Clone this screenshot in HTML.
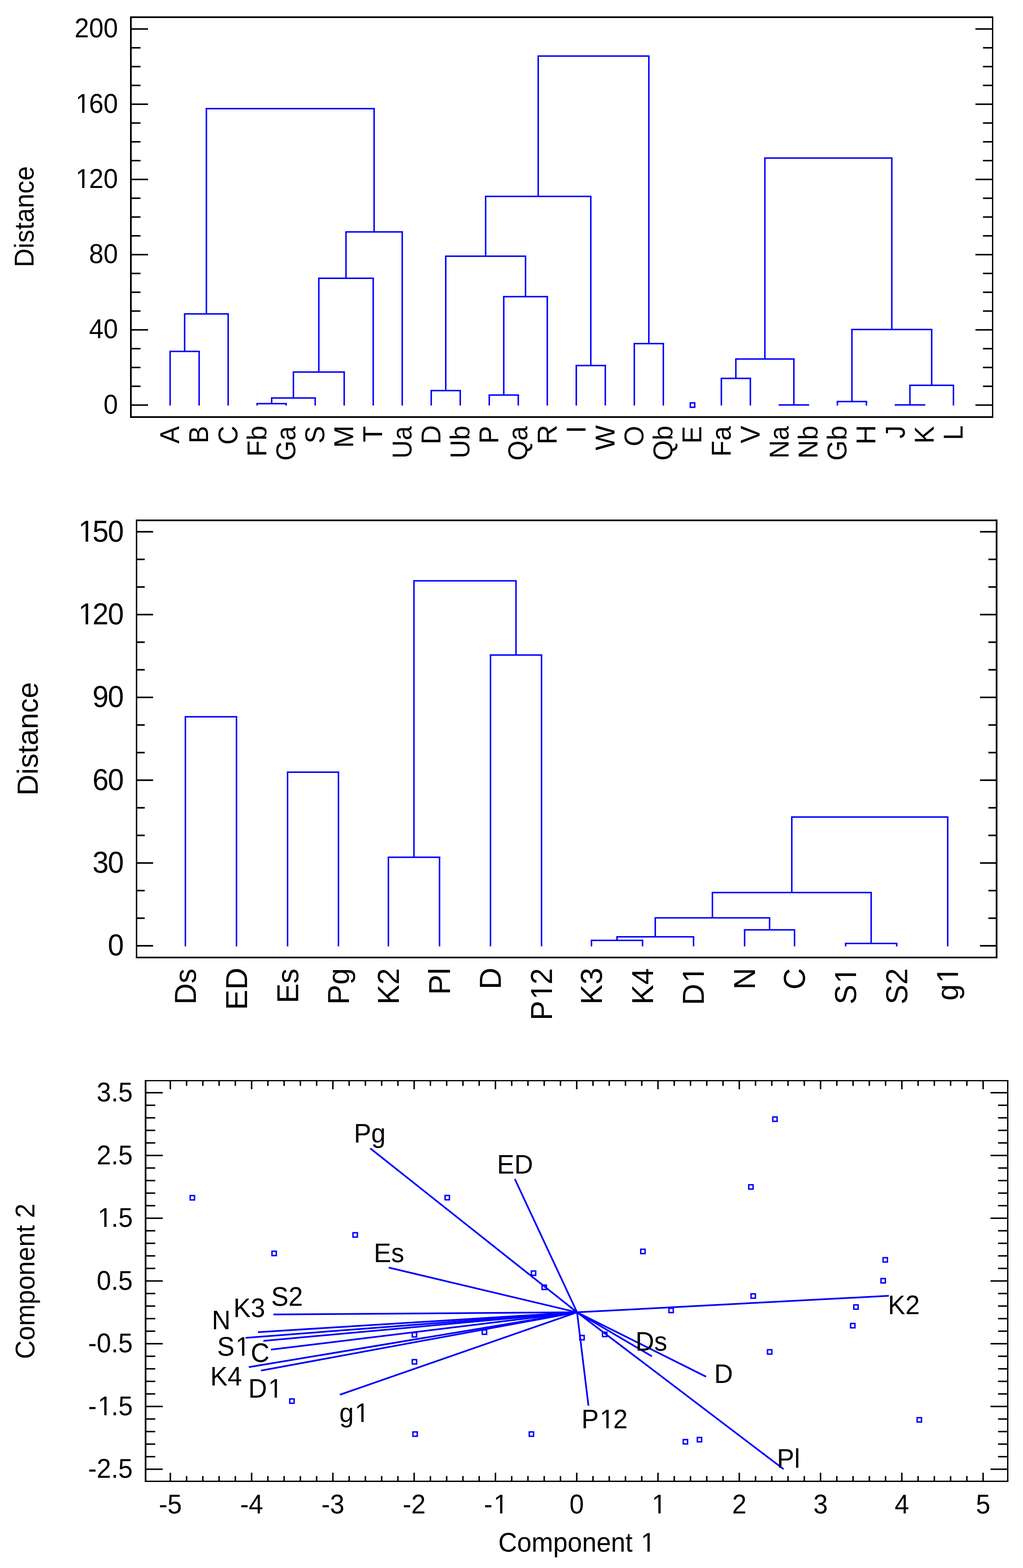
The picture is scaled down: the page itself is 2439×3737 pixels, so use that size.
<!DOCTYPE html>
<html lang="en">
<head>
<meta charset="utf-8">
<title>Cluster dendrograms and principal component biplot</title>
<style>
html,body{margin:0;padding:0;background:#fff;}
body{width:2439px;height:3737px;overflow:hidden;}
svg{display:block;}
svg text{font-family:"Liberation Sans",sans-serif;fill:#000;font-kerning:none;text-rendering:geometricPrecision;white-space:pre;}
svg rect,svg line{shape-rendering:auto;}
</style>
</head>
<body>
<svg width="2439" height="3737" viewBox="0 0 2439 3737">
<rect x="0" y="0" width="2439" height="3737" fill="#ffffff"/>
<rect x="310.00" y="39.00" width="4.00" height="957.00" fill="#000"/>
<rect x="2365.00" y="39.00" width="3.10" height="957.00" fill="#000"/>
<rect x="310.00" y="39.00" width="2058.10" height="4.00" fill="#000"/>
<rect x="310.00" y="992.00" width="2058.10" height="4.00" fill="#000"/>
<rect x="312.00" y="963.60" width="41.00" height="3.60" fill="#000"/>
<rect x="2325.60" y="963.60" width="41.00" height="3.60" fill="#000"/>
<text transform="translate(281.22,985.60) scale(0.9550,1)" x="-36.15" y="0" font-size="65.00">0</text>
<rect x="312.00" y="918.79" width="23.00" height="3.60" fill="#000"/>
<rect x="2343.60" y="918.79" width="23.00" height="3.60" fill="#000"/>
<rect x="312.00" y="873.97" width="23.00" height="3.60" fill="#000"/>
<rect x="2343.60" y="873.97" width="23.00" height="3.60" fill="#000"/>
<rect x="312.00" y="829.15" width="23.00" height="3.60" fill="#000"/>
<rect x="2343.60" y="829.15" width="23.00" height="3.60" fill="#000"/>
<rect x="312.00" y="784.34" width="41.00" height="3.60" fill="#000"/>
<rect x="2325.60" y="784.34" width="41.00" height="3.60" fill="#000"/>
<text transform="translate(281.22,806.34) scale(0.9550,1)" x="-72.30" y="0" font-size="65.00">40</text>
<rect x="312.00" y="739.53" width="23.00" height="3.60" fill="#000"/>
<rect x="2343.60" y="739.53" width="23.00" height="3.60" fill="#000"/>
<rect x="312.00" y="694.71" width="23.00" height="3.60" fill="#000"/>
<rect x="2343.60" y="694.71" width="23.00" height="3.60" fill="#000"/>
<rect x="312.00" y="649.89" width="23.00" height="3.60" fill="#000"/>
<rect x="2343.60" y="649.89" width="23.00" height="3.60" fill="#000"/>
<rect x="312.00" y="605.08" width="41.00" height="3.60" fill="#000"/>
<rect x="2325.60" y="605.08" width="41.00" height="3.60" fill="#000"/>
<text transform="translate(281.22,627.08) scale(0.9550,1)" x="-72.30" y="0" font-size="65.00">80</text>
<rect x="312.00" y="560.27" width="23.00" height="3.60" fill="#000"/>
<rect x="2343.60" y="560.27" width="23.00" height="3.60" fill="#000"/>
<rect x="312.00" y="515.45" width="23.00" height="3.60" fill="#000"/>
<rect x="2343.60" y="515.45" width="23.00" height="3.60" fill="#000"/>
<rect x="312.00" y="470.63" width="23.00" height="3.60" fill="#000"/>
<rect x="2343.60" y="470.63" width="23.00" height="3.60" fill="#000"/>
<rect x="312.00" y="425.82" width="41.00" height="3.60" fill="#000"/>
<rect x="2325.60" y="425.82" width="41.00" height="3.60" fill="#000"/>
<g transform="translate(281.22,447.82) scale(0.9550,1)"><text x="-108.45" y="0" font-size="65.00"><tspan dx="2.60">1</tspan><tspan dx="-2.60">2</tspan>0</text><rect x="-102.60" y="-5.72" width="13.10" height="7.02" fill="#fff"/><rect x="-83.76" y="-5.72" width="11.58" height="7.02" fill="#fff"/></g>
<rect x="312.00" y="381.01" width="23.00" height="3.60" fill="#000"/>
<rect x="2343.60" y="381.01" width="23.00" height="3.60" fill="#000"/>
<rect x="312.00" y="336.19" width="23.00" height="3.60" fill="#000"/>
<rect x="2343.60" y="336.19" width="23.00" height="3.60" fill="#000"/>
<rect x="312.00" y="291.38" width="23.00" height="3.60" fill="#000"/>
<rect x="2343.60" y="291.38" width="23.00" height="3.60" fill="#000"/>
<rect x="312.00" y="246.56" width="41.00" height="3.60" fill="#000"/>
<rect x="2325.60" y="246.56" width="41.00" height="3.60" fill="#000"/>
<g transform="translate(281.22,268.56) scale(0.9550,1)"><text x="-108.45" y="0" font-size="65.00"><tspan dx="2.60">1</tspan><tspan dx="-2.60">6</tspan>0</text><rect x="-102.60" y="-5.72" width="13.10" height="7.02" fill="#fff"/><rect x="-83.76" y="-5.72" width="11.58" height="7.02" fill="#fff"/></g>
<rect x="312.00" y="201.75" width="23.00" height="3.60" fill="#000"/>
<rect x="2343.60" y="201.75" width="23.00" height="3.60" fill="#000"/>
<rect x="312.00" y="156.93" width="23.00" height="3.60" fill="#000"/>
<rect x="2343.60" y="156.93" width="23.00" height="3.60" fill="#000"/>
<rect x="312.00" y="112.12" width="23.00" height="3.60" fill="#000"/>
<rect x="2343.60" y="112.12" width="23.00" height="3.60" fill="#000"/>
<rect x="312.00" y="67.30" width="41.00" height="3.60" fill="#000"/>
<rect x="2325.60" y="67.30" width="41.00" height="3.60" fill="#000"/>
<text transform="translate(281.22,89.30) scale(0.9550,1)" x="-108.45" y="0" font-size="65.00">200</text>
<text transform="translate(79.70,516.50) rotate(-90) scale(0.9520,1)" x="-126.45" y="0" font-size="65.00">Distance</text>
<rect x="403.85" y="837.50" width="3.50" height="129.00" fill="#0000ff"/>
<rect x="473.02" y="837.50" width="3.50" height="129.00" fill="#0000ff"/>
<rect x="403.85" y="835.75" width="72.67" height="3.50" fill="#0000ff"/>
<rect x="438.44" y="748.10" width="3.50" height="89.40" fill="#0000ff"/>
<rect x="542.19" y="748.10" width="3.50" height="218.40" fill="#0000ff"/>
<rect x="438.44" y="746.35" width="107.25" height="3.50" fill="#0000ff"/>
<rect x="611.36" y="962.00" width="3.50" height="4.50" fill="#0000ff"/>
<rect x="680.53" y="962.00" width="3.50" height="4.50" fill="#0000ff"/>
<rect x="611.36" y="960.25" width="72.67" height="3.50" fill="#0000ff"/>
<rect x="645.94" y="948.50" width="3.50" height="13.50" fill="#0000ff"/>
<rect x="749.70" y="948.50" width="3.50" height="18.00" fill="#0000ff"/>
<rect x="645.94" y="946.75" width="107.26" height="3.50" fill="#0000ff"/>
<rect x="697.82" y="886.70" width="3.50" height="61.80" fill="#0000ff"/>
<rect x="818.87" y="886.70" width="3.50" height="79.80" fill="#0000ff"/>
<rect x="697.82" y="884.95" width="124.55" height="3.50" fill="#0000ff"/>
<rect x="758.35" y="663.20" width="3.50" height="223.50" fill="#0000ff"/>
<rect x="888.04" y="663.20" width="3.50" height="303.30" fill="#0000ff"/>
<rect x="758.35" y="661.45" width="133.19" height="3.50" fill="#0000ff"/>
<rect x="823.19" y="552.70" width="3.50" height="110.50" fill="#0000ff"/>
<rect x="957.21" y="552.70" width="3.50" height="413.80" fill="#0000ff"/>
<rect x="823.19" y="550.95" width="137.52" height="3.50" fill="#0000ff"/>
<rect x="490.31" y="258.90" width="3.50" height="489.20" fill="#0000ff"/>
<rect x="890.20" y="258.90" width="3.50" height="293.80" fill="#0000ff"/>
<rect x="490.31" y="257.15" width="403.39" height="3.50" fill="#0000ff"/>
<rect x="1026.38" y="930.90" width="3.50" height="35.60" fill="#0000ff"/>
<rect x="1095.55" y="930.90" width="3.50" height="35.60" fill="#0000ff"/>
<rect x="1026.38" y="929.15" width="72.67" height="3.50" fill="#0000ff"/>
<rect x="1164.72" y="941.50" width="3.50" height="25.00" fill="#0000ff"/>
<rect x="1233.89" y="941.50" width="3.50" height="25.00" fill="#0000ff"/>
<rect x="1164.72" y="939.75" width="72.67" height="3.50" fill="#0000ff"/>
<rect x="1199.30" y="707.00" width="3.50" height="234.50" fill="#0000ff"/>
<rect x="1303.06" y="707.00" width="3.50" height="259.50" fill="#0000ff"/>
<rect x="1199.30" y="705.25" width="107.26" height="3.50" fill="#0000ff"/>
<rect x="1060.97" y="610.60" width="3.50" height="320.30" fill="#0000ff"/>
<rect x="1251.18" y="610.60" width="3.50" height="96.40" fill="#0000ff"/>
<rect x="1060.97" y="608.85" width="193.72" height="3.50" fill="#0000ff"/>
<rect x="1372.23" y="871.20" width="3.50" height="95.30" fill="#0000ff"/>
<rect x="1441.40" y="871.20" width="3.50" height="95.30" fill="#0000ff"/>
<rect x="1372.23" y="869.45" width="72.67" height="3.50" fill="#0000ff"/>
<rect x="1156.07" y="468.10" width="3.50" height="142.50" fill="#0000ff"/>
<rect x="1406.82" y="468.10" width="3.50" height="403.10" fill="#0000ff"/>
<rect x="1156.07" y="466.35" width="254.24" height="3.50" fill="#0000ff"/>
<rect x="1510.57" y="818.90" width="3.50" height="147.60" fill="#0000ff"/>
<rect x="1579.74" y="818.90" width="3.50" height="147.60" fill="#0000ff"/>
<rect x="1510.57" y="817.15" width="72.67" height="3.50" fill="#0000ff"/>
<rect x="1281.44" y="133.60" width="3.50" height="334.50" fill="#0000ff"/>
<rect x="1545.16" y="133.60" width="3.50" height="685.30" fill="#0000ff"/>
<rect x="1281.44" y="131.85" width="267.21" height="3.50" fill="#0000ff"/>
<rect x="1718.08" y="901.80" width="3.50" height="64.70" fill="#0000ff"/>
<rect x="1787.25" y="901.80" width="3.50" height="64.70" fill="#0000ff"/>
<rect x="1718.08" y="900.05" width="72.67" height="3.50" fill="#0000ff"/>
<rect x="1856.42" y="965.10" width="3.50" height="1.40" fill="#0000ff"/>
<rect x="1925.59" y="965.10" width="3.50" height="1.40" fill="#0000ff"/>
<rect x="1856.42" y="963.35" width="72.67" height="3.50" fill="#0000ff"/>
<rect x="1752.66" y="855.60" width="3.50" height="46.20" fill="#0000ff"/>
<rect x="1891.01" y="855.60" width="3.50" height="109.50" fill="#0000ff"/>
<rect x="1752.66" y="853.85" width="141.84" height="3.50" fill="#0000ff"/>
<rect x="1994.76" y="957.00" width="3.50" height="9.50" fill="#0000ff"/>
<rect x="2063.93" y="957.00" width="3.50" height="9.50" fill="#0000ff"/>
<rect x="1994.76" y="955.25" width="72.67" height="3.50" fill="#0000ff"/>
<rect x="2133.10" y="965.00" width="3.50" height="1.50" fill="#0000ff"/>
<rect x="2202.27" y="965.00" width="3.50" height="1.50" fill="#0000ff"/>
<rect x="2133.10" y="963.25" width="72.67" height="3.50" fill="#0000ff"/>
<rect x="2167.68" y="918.30" width="3.50" height="46.70" fill="#0000ff"/>
<rect x="2271.44" y="918.30" width="3.50" height="48.20" fill="#0000ff"/>
<rect x="2167.68" y="916.55" width="107.26" height="3.50" fill="#0000ff"/>
<rect x="2029.35" y="785.30" width="3.50" height="171.70" fill="#0000ff"/>
<rect x="2219.56" y="785.30" width="3.50" height="133.00" fill="#0000ff"/>
<rect x="2029.35" y="783.55" width="193.72" height="3.50" fill="#0000ff"/>
<rect x="1821.84" y="376.70" width="3.50" height="478.90" fill="#0000ff"/>
<rect x="2124.45" y="376.70" width="3.50" height="408.60" fill="#0000ff"/>
<rect x="1821.84" y="374.95" width="306.12" height="3.50" fill="#0000ff"/>
<rect x="1645.81" y="960.15" width="10.5" height="10.5" fill="none" stroke="#0000ff" stroke-width="3.5"/>
<text transform="translate(427.30,1057.02) rotate(-90) scale(0.9498,1)" x="0.00" y="0" font-size="65.10">A</text>
<text transform="translate(496.47,1056.70) rotate(-90) scale(0.9650,1)" x="0.00" y="0" font-size="65.10">B</text>
<text transform="translate(565.64,1060.08) rotate(-90) scale(0.9650,1)" x="0.00" y="0" font-size="65.10">C</text>
<text transform="translate(634.81,1088.51) rotate(-90) scale(0.9765,1)" x="0.00" y="0" font-size="65.10">Fb</text>
<text transform="translate(703.98,1098.00) rotate(-90) scale(0.9478,1)" x="0.00" y="0" font-size="65.10">Ga</text>
<text transform="translate(773.15,1056.96) rotate(-90) scale(0.9659,1)" x="0.00" y="0" font-size="65.10">S</text>
<text transform="translate(842.32,1067.47) rotate(-90) scale(0.9874,1)" x="0.00" y="0" font-size="65.10">M</text>
<text transform="translate(911.49,1054.12) rotate(-90) scale(0.9699,1)" x="0.00" y="0" font-size="65.10">T</text>
<text transform="translate(980.66,1092.85) rotate(-90) scale(0.9269,1)" x="0.00" y="0" font-size="65.10">Ua</text>
<text transform="translate(1049.83,1059.35) rotate(-90) scale(0.9829,1)" x="0.00" y="0" font-size="65.10">D</text>
<text transform="translate(1119.00,1092.62) rotate(-90) scale(0.9395,1)" x="0.00" y="0" font-size="65.10">Ub</text>
<text transform="translate(1188.17,1057.41) rotate(-90) scale(0.9755,1)" x="0.00" y="0" font-size="65.10">P</text>
<text transform="translate(1257.34,1097.82) rotate(-90) scale(0.9456,1)" x="0.00" y="0" font-size="65.10">Qa</text>
<text transform="translate(1326.51,1059.49) rotate(-90) scale(1.0090,1)" x="0.00" y="0" font-size="65.10">R</text>
<text transform="translate(1395.68,1032.38) rotate(-90) scale(0.9650,1)" x="0.00" y="0" font-size="65.10">I</text>
<text transform="translate(1464.85,1073.28) rotate(-90) scale(0.9715,1)" x="0.00" y="0" font-size="65.10">W</text>
<text transform="translate(1534.02,1063.78) rotate(-90) scale(0.9654,1)" x="0.00" y="0" font-size="65.10">O</text>
<text transform="translate(1603.19,1097.86) rotate(-90) scale(0.9614,1)" x="0.00" y="0" font-size="65.10">Qb</text>
<text transform="translate(1672.36,1057.15) rotate(-90) scale(0.9636,1)" x="0.00" y="0" font-size="65.10">E</text>
<text transform="translate(1741.53,1088.21) rotate(-90) scale(0.9573,1)" x="0.00" y="0" font-size="65.10">Fa</text>
<text transform="translate(1810.70,1056.58) rotate(-90) scale(0.9615,1)" x="0.00" y="0" font-size="65.10">V</text>
<text transform="translate(1879.87,1092.85) rotate(-90) scale(0.9268,1)" x="0.00" y="0" font-size="65.10">Na</text>
<text transform="translate(1949.04,1092.94) rotate(-90) scale(0.9435,1)" x="0.00" y="0" font-size="65.10">Nb</text>
<text transform="translate(2018.21,1098.06) rotate(-90) scale(0.9637,1)" x="0.00" y="0" font-size="65.10">Gb</text>
<text transform="translate(2087.38,1059.42) rotate(-90) scale(0.9955,1)" x="0.00" y="0" font-size="65.10">H</text>
<text transform="translate(2156.55,1045.07) rotate(-90) scale(0.9513,1)" x="0.00" y="0" font-size="65.10">J</text>
<text transform="translate(2225.72,1057.15) rotate(-90) scale(0.9639,1)" x="0.00" y="0" font-size="65.10">K</text>
<text transform="translate(2294.89,1048.99) rotate(-90) scale(0.9720,1)" x="0.00" y="0" font-size="65.10">L</text>
<rect x="323.90" y="1238.20" width="3.30" height="1045.70" fill="#000"/>
<rect x="2374.00" y="1238.20" width="4.10" height="1045.70" fill="#000"/>
<rect x="323.90" y="1238.20" width="2054.20" height="3.90" fill="#000"/>
<rect x="323.90" y="2280.10" width="2054.20" height="3.80" fill="#000"/>
<rect x="325.50" y="2252.20" width="39.50" height="3.80" fill="#000"/>
<rect x="2336.50" y="2252.20" width="39.50" height="3.80" fill="#000"/>
<text transform="translate(295.40,2277.30) scale(0.9550,1)" x="-40.21" y="0" font-size="72.30" letter-spacing="-2.00">0</text>
<rect x="325.50" y="2186.42" width="19.50" height="3.80" fill="#000"/>
<rect x="2356.50" y="2186.42" width="19.50" height="3.80" fill="#000"/>
<rect x="325.50" y="2120.64" width="19.50" height="3.80" fill="#000"/>
<rect x="2356.50" y="2120.64" width="19.50" height="3.80" fill="#000"/>
<rect x="325.50" y="2054.86" width="39.50" height="3.80" fill="#000"/>
<rect x="2336.50" y="2054.86" width="39.50" height="3.80" fill="#000"/>
<text transform="translate(295.40,2079.96) scale(0.9550,1)" x="-78.42" y="0" font-size="72.30" letter-spacing="-2.00">30</text>
<rect x="325.50" y="1989.08" width="19.50" height="3.80" fill="#000"/>
<rect x="2356.50" y="1989.08" width="19.50" height="3.80" fill="#000"/>
<rect x="325.50" y="1923.30" width="19.50" height="3.80" fill="#000"/>
<rect x="2356.50" y="1923.30" width="19.50" height="3.80" fill="#000"/>
<rect x="325.50" y="1857.52" width="39.50" height="3.80" fill="#000"/>
<rect x="2336.50" y="1857.52" width="39.50" height="3.80" fill="#000"/>
<text transform="translate(295.40,1882.62) scale(0.9550,1)" x="-78.42" y="0" font-size="72.30" letter-spacing="-2.00">60</text>
<rect x="325.50" y="1791.74" width="19.50" height="3.80" fill="#000"/>
<rect x="2356.50" y="1791.74" width="19.50" height="3.80" fill="#000"/>
<rect x="325.50" y="1725.96" width="19.50" height="3.80" fill="#000"/>
<rect x="2356.50" y="1725.96" width="19.50" height="3.80" fill="#000"/>
<rect x="325.50" y="1660.18" width="39.50" height="3.80" fill="#000"/>
<rect x="2336.50" y="1660.18" width="39.50" height="3.80" fill="#000"/>
<text transform="translate(295.40,1685.28) scale(0.9550,1)" x="-78.42" y="0" font-size="72.30" letter-spacing="-2.00">90</text>
<rect x="325.50" y="1594.40" width="19.50" height="3.80" fill="#000"/>
<rect x="2356.50" y="1594.40" width="19.50" height="3.80" fill="#000"/>
<rect x="325.50" y="1528.62" width="19.50" height="3.80" fill="#000"/>
<rect x="2356.50" y="1528.62" width="19.50" height="3.80" fill="#000"/>
<rect x="325.50" y="1462.84" width="39.50" height="3.80" fill="#000"/>
<rect x="2336.50" y="1462.84" width="39.50" height="3.80" fill="#000"/>
<g transform="translate(295.40,1487.94) scale(0.9550,1)"><text x="-116.63" y="0" font-size="72.30" letter-spacing="-2.00"><tspan dx="2.89">1</tspan><tspan dx="-2.89">2</tspan>0</text><rect x="-110.12" y="-6.36" width="14.57" height="7.81" fill="#fff"/><rect x="-89.17" y="-6.36" width="12.88" height="7.81" fill="#fff"/></g>
<rect x="325.50" y="1397.06" width="19.50" height="3.80" fill="#000"/>
<rect x="2356.50" y="1397.06" width="19.50" height="3.80" fill="#000"/>
<rect x="325.50" y="1331.28" width="19.50" height="3.80" fill="#000"/>
<rect x="2356.50" y="1331.28" width="19.50" height="3.80" fill="#000"/>
<rect x="325.50" y="1265.50" width="39.50" height="3.80" fill="#000"/>
<rect x="2336.50" y="1265.50" width="39.50" height="3.80" fill="#000"/>
<g transform="translate(295.40,1290.60) scale(0.9550,1)"><text x="-116.63" y="0" font-size="72.30" letter-spacing="-2.00"><tspan dx="2.89">1</tspan><tspan dx="-2.89">5</tspan>0</text><rect x="-110.12" y="-6.36" width="14.57" height="7.81" fill="#fff"/><rect x="-89.17" y="-6.36" width="12.88" height="7.81" fill="#fff"/></g>
<text transform="translate(90.00,1760.90) rotate(-90)" x="-135.39" y="0" font-size="69.60">Distance</text>
<rect x="440.25" y="1708.30" width="3.50" height="547.20" fill="#0000ff"/>
<rect x="562.05" y="1708.30" width="3.50" height="547.20" fill="#0000ff"/>
<rect x="440.25" y="1706.55" width="125.30" height="3.50" fill="#0000ff"/>
<rect x="683.85" y="1840.30" width="3.50" height="415.20" fill="#0000ff"/>
<rect x="805.15" y="1840.30" width="3.50" height="415.20" fill="#0000ff"/>
<rect x="683.85" y="1838.55" width="124.80" height="3.50" fill="#0000ff"/>
<rect x="924.25" y="2043.10" width="3.50" height="212.40" fill="#0000ff"/>
<rect x="1046.15" y="2043.10" width="3.50" height="212.40" fill="#0000ff"/>
<rect x="924.25" y="2041.35" width="125.40" height="3.50" fill="#0000ff"/>
<rect x="1167.65" y="1561.10" width="3.50" height="694.40" fill="#0000ff"/>
<rect x="1289.35" y="1561.10" width="3.50" height="694.40" fill="#0000ff"/>
<rect x="1167.65" y="1559.35" width="125.20" height="3.50" fill="#0000ff"/>
<rect x="985.20" y="1384.30" width="3.50" height="658.80" fill="#0000ff"/>
<rect x="1228.50" y="1384.30" width="3.50" height="176.80" fill="#0000ff"/>
<rect x="985.20" y="1382.55" width="246.80" height="3.50" fill="#0000ff"/>
<rect x="1408.45" y="2241.20" width="3.50" height="14.30" fill="#0000ff"/>
<rect x="1530.15" y="2241.20" width="3.50" height="14.30" fill="#0000ff"/>
<rect x="1408.45" y="2239.45" width="125.20" height="3.50" fill="#0000ff"/>
<rect x="1469.30" y="2232.70" width="3.50" height="8.50" fill="#0000ff"/>
<rect x="1651.75" y="2232.70" width="3.50" height="22.80" fill="#0000ff"/>
<rect x="1469.30" y="2230.95" width="185.95" height="3.50" fill="#0000ff"/>
<rect x="1773.55" y="2216.10" width="3.50" height="39.40" fill="#0000ff"/>
<rect x="1892.55" y="2216.10" width="3.50" height="39.40" fill="#0000ff"/>
<rect x="1773.55" y="2214.35" width="122.50" height="3.50" fill="#0000ff"/>
<rect x="1560.53" y="2187.50" width="3.50" height="45.20" fill="#0000ff"/>
<rect x="1833.05" y="2187.50" width="3.50" height="28.60" fill="#0000ff"/>
<rect x="1560.53" y="2185.75" width="276.02" height="3.50" fill="#0000ff"/>
<rect x="2014.35" y="2248.50" width="3.50" height="7.00" fill="#0000ff"/>
<rect x="2136.15" y="2248.50" width="3.50" height="7.00" fill="#0000ff"/>
<rect x="2014.35" y="2246.75" width="125.30" height="3.50" fill="#0000ff"/>
<rect x="1696.79" y="2127.20" width="3.50" height="60.30" fill="#0000ff"/>
<rect x="2075.25" y="2127.20" width="3.50" height="121.30" fill="#0000ff"/>
<rect x="1696.79" y="2125.45" width="381.96" height="3.50" fill="#0000ff"/>
<rect x="1886.02" y="1947.20" width="3.50" height="180.00" fill="#0000ff"/>
<rect x="2257.75" y="1947.20" width="3.50" height="308.30" fill="#0000ff"/>
<rect x="1886.02" y="1945.45" width="375.23" height="3.50" fill="#0000ff"/>
<text transform="translate(466.90,2394.04) rotate(-90) scale(0.9684,1)" x="0.00" y="0" font-size="72.30">Ds</text>
<text transform="translate(588.70,2407.28) rotate(-90) scale(1.0083,1)" x="0.00" y="0" font-size="72.30">ED</text>
<text transform="translate(710.50,2391.00) rotate(-90) scale(0.9785,1)" x="0.00" y="0" font-size="72.30">Es</text>
<text transform="translate(831.80,2394.14) rotate(-90) scale(0.9853,1)" x="0.00" y="0" font-size="72.30">Pg</text>
<text transform="translate(950.90,2394.11) rotate(-90) scale(0.9801,1)" x="0.00" y="0" font-size="72.30">K2</text>
<text transform="translate(1072.80,2371.03) rotate(-90) scale(0.9996,1)" x="0.00" y="0" font-size="72.30">Pl</text>
<text transform="translate(1194.30,2357.66) rotate(-90) scale(0.9878,1)" x="0.00" y="0" font-size="72.30">D</text>
<g transform="translate(1316.00,2431.73) rotate(-90) scale(0.9658,1)"><text x="0.00" y="0" font-size="72.30">P<tspan dx="2.89">1</tspan><tspan dx="-2.89">2</tspan></text><rect x="54.73" y="-6.36" width="14.57" height="7.81" fill="#fff"/><rect x="75.68" y="-6.36" width="12.88" height="7.81" fill="#fff"/></g>
<text transform="translate(1435.10,2394.19) rotate(-90) scale(0.9934,1)" x="0.00" y="0" font-size="72.30">K3</text>
<text transform="translate(1556.80,2394.11) rotate(-90) scale(0.9803,1)" x="0.00" y="0" font-size="72.30">K4</text>
<g transform="translate(1678.40,2395.58) rotate(-90) scale(0.9750,1)"><text x="0.00" y="0" font-size="72.30">D<tspan dx="2.89">1</tspan></text><rect x="58.72" y="-6.36" width="14.57" height="7.81" fill="#fff"/><rect x="79.67" y="-6.36" width="12.88" height="7.81" fill="#fff"/></g>
<text transform="translate(1800.20,2358.24) rotate(-90) scale(0.9855,1)" x="0.00" y="0" font-size="72.30">N</text>
<text transform="translate(1919.20,2358.49) rotate(-90) scale(0.9784,1)" x="0.00" y="0" font-size="72.30">C</text>
<g transform="translate(2041.00,2393.70) rotate(-90) scale(0.9750,1)"><text x="0.00" y="0" font-size="72.30">S<tspan dx="2.89">1</tspan></text><rect x="54.73" y="-6.36" width="14.57" height="7.81" fill="#fff"/><rect x="75.68" y="-6.36" width="12.88" height="7.81" fill="#fff"/></g>
<text transform="translate(2162.80,2393.70) rotate(-90) scale(0.9753,1)" x="0.00" y="0" font-size="72.30">S2</text>
<g transform="translate(2284.40,2384.76) rotate(-90) scale(0.9750,1)"><text x="0.00" y="0" font-size="72.30">g<tspan dx="2.89">1</tspan></text><rect x="46.72" y="-6.36" width="14.57" height="7.81" fill="#fff"/><rect x="67.67" y="-6.36" width="12.88" height="7.81" fill="#fff"/></g>
<rect x="345.10" y="2574.10" width="4.00" height="957.90" fill="#000"/>
<rect x="2401.00" y="2574.10" width="3.20" height="957.90" fill="#000"/>
<rect x="345.10" y="2574.10" width="2059.10" height="2.90" fill="#000"/>
<rect x="345.10" y="3528.80" width="2059.10" height="3.20" fill="#000"/>
<rect x="404.35" y="3509.90" width="3.50" height="20.50" fill="#000"/>
<rect x="404.35" y="2575.50" width="3.50" height="20.50" fill="#000"/>
<text transform="translate(406.10,3607.00) scale(0.9550,1)" x="-28.76" y="0" font-size="64.70">-5</text>
<rect x="443.11" y="3517.90" width="3.50" height="12.50" fill="#000"/>
<rect x="443.11" y="2575.50" width="3.50" height="12.50" fill="#000"/>
<rect x="481.86" y="3517.90" width="3.50" height="12.50" fill="#000"/>
<rect x="481.86" y="2575.50" width="3.50" height="12.50" fill="#000"/>
<rect x="520.62" y="3517.90" width="3.50" height="12.50" fill="#000"/>
<rect x="520.62" y="2575.50" width="3.50" height="12.50" fill="#000"/>
<rect x="559.37" y="3517.90" width="3.50" height="12.50" fill="#000"/>
<rect x="559.37" y="2575.50" width="3.50" height="12.50" fill="#000"/>
<rect x="598.13" y="3509.90" width="3.50" height="20.50" fill="#000"/>
<rect x="598.13" y="2575.50" width="3.50" height="20.50" fill="#000"/>
<text transform="translate(599.88,3607.00) scale(0.9550,1)" x="-28.76" y="0" font-size="64.70">-4</text>
<rect x="636.89" y="3517.90" width="3.50" height="12.50" fill="#000"/>
<rect x="636.89" y="2575.50" width="3.50" height="12.50" fill="#000"/>
<rect x="675.64" y="3517.90" width="3.50" height="12.50" fill="#000"/>
<rect x="675.64" y="2575.50" width="3.50" height="12.50" fill="#000"/>
<rect x="714.40" y="3517.90" width="3.50" height="12.50" fill="#000"/>
<rect x="714.40" y="2575.50" width="3.50" height="12.50" fill="#000"/>
<rect x="753.15" y="3517.90" width="3.50" height="12.50" fill="#000"/>
<rect x="753.15" y="2575.50" width="3.50" height="12.50" fill="#000"/>
<rect x="791.91" y="3509.90" width="3.50" height="20.50" fill="#000"/>
<rect x="791.91" y="2575.50" width="3.50" height="20.50" fill="#000"/>
<text transform="translate(793.66,3607.00) scale(0.9550,1)" x="-28.76" y="0" font-size="64.70">-3</text>
<rect x="830.67" y="3517.90" width="3.50" height="12.50" fill="#000"/>
<rect x="830.67" y="2575.50" width="3.50" height="12.50" fill="#000"/>
<rect x="869.42" y="3517.90" width="3.50" height="12.50" fill="#000"/>
<rect x="869.42" y="2575.50" width="3.50" height="12.50" fill="#000"/>
<rect x="908.18" y="3517.90" width="3.50" height="12.50" fill="#000"/>
<rect x="908.18" y="2575.50" width="3.50" height="12.50" fill="#000"/>
<rect x="946.93" y="3517.90" width="3.50" height="12.50" fill="#000"/>
<rect x="946.93" y="2575.50" width="3.50" height="12.50" fill="#000"/>
<rect x="985.69" y="3509.90" width="3.50" height="20.50" fill="#000"/>
<rect x="985.69" y="2575.50" width="3.50" height="20.50" fill="#000"/>
<text transform="translate(987.44,3607.00) scale(0.9550,1)" x="-28.76" y="0" font-size="64.70">-2</text>
<rect x="1024.45" y="3517.90" width="3.50" height="12.50" fill="#000"/>
<rect x="1024.45" y="2575.50" width="3.50" height="12.50" fill="#000"/>
<rect x="1063.20" y="3517.90" width="3.50" height="12.50" fill="#000"/>
<rect x="1063.20" y="2575.50" width="3.50" height="12.50" fill="#000"/>
<rect x="1101.96" y="3517.90" width="3.50" height="12.50" fill="#000"/>
<rect x="1101.96" y="2575.50" width="3.50" height="12.50" fill="#000"/>
<rect x="1140.71" y="3517.90" width="3.50" height="12.50" fill="#000"/>
<rect x="1140.71" y="2575.50" width="3.50" height="12.50" fill="#000"/>
<rect x="1179.47" y="3509.90" width="3.50" height="20.50" fill="#000"/>
<rect x="1179.47" y="2575.50" width="3.50" height="20.50" fill="#000"/>
<g transform="translate(1181.22,3607.00) scale(0.9550,1)"><text x="-28.76" y="0" font-size="64.70">-<tspan dx="2.59">1</tspan></text><rect x="-1.40" y="-5.69" width="13.04" height="6.99" fill="#fff"/><rect x="17.35" y="-5.69" width="11.53" height="6.99" fill="#fff"/></g>
<rect x="1218.23" y="3517.90" width="3.50" height="12.50" fill="#000"/>
<rect x="1218.23" y="2575.50" width="3.50" height="12.50" fill="#000"/>
<rect x="1256.98" y="3517.90" width="3.50" height="12.50" fill="#000"/>
<rect x="1256.98" y="2575.50" width="3.50" height="12.50" fill="#000"/>
<rect x="1295.74" y="3517.90" width="3.50" height="12.50" fill="#000"/>
<rect x="1295.74" y="2575.50" width="3.50" height="12.50" fill="#000"/>
<rect x="1334.49" y="3517.90" width="3.50" height="12.50" fill="#000"/>
<rect x="1334.49" y="2575.50" width="3.50" height="12.50" fill="#000"/>
<rect x="1373.25" y="3509.90" width="3.50" height="20.50" fill="#000"/>
<rect x="1373.25" y="2575.50" width="3.50" height="20.50" fill="#000"/>
<text transform="translate(1375.00,3607.00) scale(0.9550,1)" x="-17.99" y="0" font-size="64.70">0</text>
<rect x="1412.01" y="3517.90" width="3.50" height="12.50" fill="#000"/>
<rect x="1412.01" y="2575.50" width="3.50" height="12.50" fill="#000"/>
<rect x="1450.76" y="3517.90" width="3.50" height="12.50" fill="#000"/>
<rect x="1450.76" y="2575.50" width="3.50" height="12.50" fill="#000"/>
<rect x="1489.52" y="3517.90" width="3.50" height="12.50" fill="#000"/>
<rect x="1489.52" y="2575.50" width="3.50" height="12.50" fill="#000"/>
<rect x="1528.27" y="3517.90" width="3.50" height="12.50" fill="#000"/>
<rect x="1528.27" y="2575.50" width="3.50" height="12.50" fill="#000"/>
<rect x="1567.03" y="3509.90" width="3.50" height="20.50" fill="#000"/>
<rect x="1567.03" y="2575.50" width="3.50" height="20.50" fill="#000"/>
<g transform="translate(1568.78,3607.00) scale(0.9550,1)"><text x="-17.99" y="0" font-size="64.70"><tspan dx="2.59">1</tspan></text><rect x="-12.17" y="-5.69" width="13.04" height="6.99" fill="#fff"/><rect x="6.58" y="-5.69" width="11.53" height="6.99" fill="#fff"/></g>
<rect x="1605.79" y="3517.90" width="3.50" height="12.50" fill="#000"/>
<rect x="1605.79" y="2575.50" width="3.50" height="12.50" fill="#000"/>
<rect x="1644.54" y="3517.90" width="3.50" height="12.50" fill="#000"/>
<rect x="1644.54" y="2575.50" width="3.50" height="12.50" fill="#000"/>
<rect x="1683.30" y="3517.90" width="3.50" height="12.50" fill="#000"/>
<rect x="1683.30" y="2575.50" width="3.50" height="12.50" fill="#000"/>
<rect x="1722.05" y="3517.90" width="3.50" height="12.50" fill="#000"/>
<rect x="1722.05" y="2575.50" width="3.50" height="12.50" fill="#000"/>
<rect x="1760.81" y="3509.90" width="3.50" height="20.50" fill="#000"/>
<rect x="1760.81" y="2575.50" width="3.50" height="20.50" fill="#000"/>
<text transform="translate(1762.56,3607.00) scale(0.9550,1)" x="-17.99" y="0" font-size="64.70">2</text>
<rect x="1799.57" y="3517.90" width="3.50" height="12.50" fill="#000"/>
<rect x="1799.57" y="2575.50" width="3.50" height="12.50" fill="#000"/>
<rect x="1838.32" y="3517.90" width="3.50" height="12.50" fill="#000"/>
<rect x="1838.32" y="2575.50" width="3.50" height="12.50" fill="#000"/>
<rect x="1877.08" y="3517.90" width="3.50" height="12.50" fill="#000"/>
<rect x="1877.08" y="2575.50" width="3.50" height="12.50" fill="#000"/>
<rect x="1915.83" y="3517.90" width="3.50" height="12.50" fill="#000"/>
<rect x="1915.83" y="2575.50" width="3.50" height="12.50" fill="#000"/>
<rect x="1954.59" y="3509.90" width="3.50" height="20.50" fill="#000"/>
<rect x="1954.59" y="2575.50" width="3.50" height="20.50" fill="#000"/>
<text transform="translate(1956.34,3607.00) scale(0.9550,1)" x="-17.99" y="0" font-size="64.70">3</text>
<rect x="1993.35" y="3517.90" width="3.50" height="12.50" fill="#000"/>
<rect x="1993.35" y="2575.50" width="3.50" height="12.50" fill="#000"/>
<rect x="2032.10" y="3517.90" width="3.50" height="12.50" fill="#000"/>
<rect x="2032.10" y="2575.50" width="3.50" height="12.50" fill="#000"/>
<rect x="2070.86" y="3517.90" width="3.50" height="12.50" fill="#000"/>
<rect x="2070.86" y="2575.50" width="3.50" height="12.50" fill="#000"/>
<rect x="2109.61" y="3517.90" width="3.50" height="12.50" fill="#000"/>
<rect x="2109.61" y="2575.50" width="3.50" height="12.50" fill="#000"/>
<rect x="2148.37" y="3509.90" width="3.50" height="20.50" fill="#000"/>
<rect x="2148.37" y="2575.50" width="3.50" height="20.50" fill="#000"/>
<text transform="translate(2150.12,3607.00) scale(0.9550,1)" x="-17.99" y="0" font-size="64.70">4</text>
<rect x="2187.13" y="3517.90" width="3.50" height="12.50" fill="#000"/>
<rect x="2187.13" y="2575.50" width="3.50" height="12.50" fill="#000"/>
<rect x="2225.88" y="3517.90" width="3.50" height="12.50" fill="#000"/>
<rect x="2225.88" y="2575.50" width="3.50" height="12.50" fill="#000"/>
<rect x="2264.64" y="3517.90" width="3.50" height="12.50" fill="#000"/>
<rect x="2264.64" y="2575.50" width="3.50" height="12.50" fill="#000"/>
<rect x="2303.39" y="3517.90" width="3.50" height="12.50" fill="#000"/>
<rect x="2303.39" y="2575.50" width="3.50" height="12.50" fill="#000"/>
<rect x="2342.15" y="3509.90" width="3.50" height="20.50" fill="#000"/>
<rect x="2342.15" y="2575.50" width="3.50" height="20.50" fill="#000"/>
<text transform="translate(2343.90,3607.00) scale(0.9550,1)" x="-17.99" y="0" font-size="64.70">5</text>
<rect x="347.10" y="3499.82" width="41.00" height="3.50" fill="#000"/>
<rect x="2361.60" y="3499.82" width="41.00" height="3.50" fill="#000"/>
<text transform="translate(316.49,3522.27) scale(0.9550,1)" x="-111.49" y="0" font-size="64.70">-2.5</text>
<rect x="347.10" y="3469.91" width="23.00" height="3.50" fill="#000"/>
<rect x="2379.60" y="3469.91" width="23.00" height="3.50" fill="#000"/>
<rect x="347.10" y="3440.01" width="23.00" height="3.50" fill="#000"/>
<rect x="2379.60" y="3440.01" width="23.00" height="3.50" fill="#000"/>
<rect x="347.10" y="3410.09" width="23.00" height="3.50" fill="#000"/>
<rect x="2379.60" y="3410.09" width="23.00" height="3.50" fill="#000"/>
<rect x="347.10" y="3380.18" width="23.00" height="3.50" fill="#000"/>
<rect x="2379.60" y="3380.18" width="23.00" height="3.50" fill="#000"/>
<rect x="347.10" y="3350.27" width="41.00" height="3.50" fill="#000"/>
<rect x="2361.60" y="3350.27" width="41.00" height="3.50" fill="#000"/>
<g transform="translate(316.49,3372.72) scale(0.9550,1)"><text x="-111.49" y="0" font-size="64.70">-<tspan dx="2.59">1</tspan><tspan dx="-2.59">.</tspan>5</text><rect x="-84.12" y="-5.69" width="13.04" height="6.99" fill="#fff"/><rect x="-65.37" y="-5.69" width="11.53" height="6.99" fill="#fff"/></g>
<rect x="347.10" y="3320.36" width="23.00" height="3.50" fill="#000"/>
<rect x="2379.60" y="3320.36" width="23.00" height="3.50" fill="#000"/>
<rect x="347.10" y="3290.45" width="23.00" height="3.50" fill="#000"/>
<rect x="2379.60" y="3290.45" width="23.00" height="3.50" fill="#000"/>
<rect x="347.10" y="3260.55" width="23.00" height="3.50" fill="#000"/>
<rect x="2379.60" y="3260.55" width="23.00" height="3.50" fill="#000"/>
<rect x="347.10" y="3230.63" width="23.00" height="3.50" fill="#000"/>
<rect x="2379.60" y="3230.63" width="23.00" height="3.50" fill="#000"/>
<rect x="347.10" y="3200.72" width="41.00" height="3.50" fill="#000"/>
<rect x="2361.60" y="3200.72" width="41.00" height="3.50" fill="#000"/>
<text transform="translate(316.49,3223.17) scale(0.9550,1)" x="-111.49" y="0" font-size="64.70">-0.5</text>
<rect x="347.10" y="3170.81" width="23.00" height="3.50" fill="#000"/>
<rect x="2379.60" y="3170.81" width="23.00" height="3.50" fill="#000"/>
<rect x="347.10" y="3140.90" width="23.00" height="3.50" fill="#000"/>
<rect x="2379.60" y="3140.90" width="23.00" height="3.50" fill="#000"/>
<rect x="347.10" y="3110.99" width="23.00" height="3.50" fill="#000"/>
<rect x="2379.60" y="3110.99" width="23.00" height="3.50" fill="#000"/>
<rect x="347.10" y="3081.09" width="23.00" height="3.50" fill="#000"/>
<rect x="2379.60" y="3081.09" width="23.00" height="3.50" fill="#000"/>
<rect x="347.10" y="3051.17" width="41.00" height="3.50" fill="#000"/>
<rect x="2361.60" y="3051.17" width="41.00" height="3.50" fill="#000"/>
<text transform="translate(316.49,3073.62) scale(0.9550,1)" x="-89.94" y="0" font-size="64.70">0.5</text>
<rect x="347.10" y="3021.26" width="23.00" height="3.50" fill="#000"/>
<rect x="2379.60" y="3021.26" width="23.00" height="3.50" fill="#000"/>
<rect x="347.10" y="2991.35" width="23.00" height="3.50" fill="#000"/>
<rect x="2379.60" y="2991.35" width="23.00" height="3.50" fill="#000"/>
<rect x="347.10" y="2961.44" width="23.00" height="3.50" fill="#000"/>
<rect x="2379.60" y="2961.44" width="23.00" height="3.50" fill="#000"/>
<rect x="347.10" y="2931.53" width="23.00" height="3.50" fill="#000"/>
<rect x="2379.60" y="2931.53" width="23.00" height="3.50" fill="#000"/>
<rect x="347.10" y="2901.62" width="41.00" height="3.50" fill="#000"/>
<rect x="2361.60" y="2901.62" width="41.00" height="3.50" fill="#000"/>
<g transform="translate(316.49,2924.07) scale(0.9550,1)"><text x="-89.94" y="0" font-size="64.70"><tspan dx="2.59">1</tspan><tspan dx="-2.59">.</tspan>5</text><rect x="-84.12" y="-5.69" width="13.04" height="6.99" fill="#fff"/><rect x="-65.37" y="-5.69" width="11.53" height="6.99" fill="#fff"/></g>
<rect x="347.10" y="2871.71" width="23.00" height="3.50" fill="#000"/>
<rect x="2379.60" y="2871.71" width="23.00" height="3.50" fill="#000"/>
<rect x="347.10" y="2841.80" width="23.00" height="3.50" fill="#000"/>
<rect x="2379.60" y="2841.80" width="23.00" height="3.50" fill="#000"/>
<rect x="347.10" y="2811.89" width="23.00" height="3.50" fill="#000"/>
<rect x="2379.60" y="2811.89" width="23.00" height="3.50" fill="#000"/>
<rect x="347.10" y="2781.98" width="23.00" height="3.50" fill="#000"/>
<rect x="2379.60" y="2781.98" width="23.00" height="3.50" fill="#000"/>
<rect x="347.10" y="2752.07" width="41.00" height="3.50" fill="#000"/>
<rect x="2361.60" y="2752.07" width="41.00" height="3.50" fill="#000"/>
<text transform="translate(316.49,2774.52) scale(0.9550,1)" x="-89.94" y="0" font-size="64.70">2.5</text>
<rect x="347.10" y="2722.16" width="23.00" height="3.50" fill="#000"/>
<rect x="2379.60" y="2722.16" width="23.00" height="3.50" fill="#000"/>
<rect x="347.10" y="2692.25" width="23.00" height="3.50" fill="#000"/>
<rect x="2379.60" y="2692.25" width="23.00" height="3.50" fill="#000"/>
<rect x="347.10" y="2662.34" width="23.00" height="3.50" fill="#000"/>
<rect x="2379.60" y="2662.34" width="23.00" height="3.50" fill="#000"/>
<rect x="347.10" y="2632.43" width="23.00" height="3.50" fill="#000"/>
<rect x="2379.60" y="2632.43" width="23.00" height="3.50" fill="#000"/>
<rect x="347.10" y="2602.52" width="41.00" height="3.50" fill="#000"/>
<rect x="2361.60" y="2602.52" width="41.00" height="3.50" fill="#000"/>
<text transform="translate(316.49,2624.97) scale(0.9550,1)" x="-89.94" y="0" font-size="64.70">3.5</text>
<text transform="translate(82.10,3053.70) rotate(-90) scale(0.9570,1)" x="-193.63" y="0" font-size="64.50">Component 2</text>
<g transform="translate(1374.00,3698.00) scale(0.9600,1)"><text x="-193.63" y="0" font-size="64.50">Component <tspan dx="2.58">1</tspan></text><rect x="163.56" y="-5.68" width="13.00" height="6.97" fill="#fff"/><rect x="182.25" y="-5.68" width="11.49" height="6.97" fill="#fff"/></g>
<line x1="1375.8" y1="3127.6" x2="651.9" y2="3132.8" stroke="#0000ff" stroke-width="4.0" stroke-linecap="butt"/>
<line x1="1375.8" y1="3127.6" x2="614.8" y2="3174.9" stroke="#0000ff" stroke-width="4.0" stroke-linecap="butt"/>
<line x1="1375.8" y1="3127.6" x2="585.5" y2="3188.4" stroke="#0000ff" stroke-width="4.0" stroke-linecap="butt"/>
<line x1="1375.8" y1="3127.6" x2="628" y2="3195.7" stroke="#0000ff" stroke-width="4.0" stroke-linecap="butt"/>
<line x1="1375.8" y1="3127.6" x2="646.1" y2="3216.6" stroke="#0000ff" stroke-width="4.0" stroke-linecap="butt"/>
<line x1="1375.8" y1="3127.6" x2="593.2" y2="3258.3" stroke="#0000ff" stroke-width="4.0" stroke-linecap="butt"/>
<line x1="1375.8" y1="3127.6" x2="622.2" y2="3266.5" stroke="#0000ff" stroke-width="4.0" stroke-linecap="butt"/>
<line x1="1375.8" y1="3127.6" x2="810.4" y2="3324" stroke="#0000ff" stroke-width="4.0" stroke-linecap="butt"/>
<line x1="1375.8" y1="3127.6" x2="926.8" y2="3021" stroke="#0000ff" stroke-width="4.0" stroke-linecap="butt"/>
<line x1="1375.8" y1="3127.6" x2="882.8" y2="2736.9" stroke="#0000ff" stroke-width="4.0" stroke-linecap="butt"/>
<line x1="1375.8" y1="3127.6" x2="1227.4" y2="2809.9" stroke="#0000ff" stroke-width="4.0" stroke-linecap="butt"/>
<line x1="1375.8" y1="3127.6" x2="1403" y2="3350.3" stroke="#0000ff" stroke-width="4.0" stroke-linecap="butt"/>
<line x1="1375.8" y1="3127.6" x2="1554.3" y2="3232.5" stroke="#0000ff" stroke-width="4.0" stroke-linecap="butt"/>
<line x1="1375.8" y1="3127.6" x2="1683.5" y2="3281.1" stroke="#0000ff" stroke-width="4.0" stroke-linecap="butt"/>
<line x1="1375.8" y1="3127.6" x2="1868.2" y2="3501.4" stroke="#0000ff" stroke-width="4.0" stroke-linecap="butt"/>
<line x1="1375.8" y1="3127.6" x2="2119.1" y2="3088.3" stroke="#0000ff" stroke-width="4.0" stroke-linecap="butt"/>
<rect x="453.45" y="2849.45" width="10.3" height="10.3" fill="none" stroke="#0000ff" stroke-width="3.4"/>
<rect x="1061.15" y="2849.15" width="10.3" height="10.3" fill="none" stroke="#0000ff" stroke-width="3.4"/>
<rect x="841.65" y="2938.05" width="10.3" height="10.3" fill="none" stroke="#0000ff" stroke-width="3.4"/>
<rect x="648.45" y="2982.15" width="10.3" height="10.3" fill="none" stroke="#0000ff" stroke-width="3.4"/>
<rect x="1842.45" y="2662.15" width="10.3" height="10.3" fill="none" stroke="#0000ff" stroke-width="3.4"/>
<rect x="1785.15" y="2823.65" width="10.3" height="10.3" fill="none" stroke="#0000ff" stroke-width="3.4"/>
<rect x="1527.65" y="2977.35" width="10.3" height="10.3" fill="none" stroke="#0000ff" stroke-width="3.4"/>
<rect x="1266.85" y="3029.15" width="10.3" height="10.3" fill="none" stroke="#0000ff" stroke-width="3.4"/>
<rect x="1292.35" y="3062.85" width="10.3" height="10.3" fill="none" stroke="#0000ff" stroke-width="3.4"/>
<rect x="2105.45" y="2997.45" width="10.3" height="10.3" fill="none" stroke="#0000ff" stroke-width="3.4"/>
<rect x="2100.45" y="3047.25" width="10.3" height="10.3" fill="none" stroke="#0000ff" stroke-width="3.4"/>
<rect x="1790.65" y="3083.65" width="10.3" height="10.3" fill="none" stroke="#0000ff" stroke-width="3.4"/>
<rect x="1594.85" y="3117.95" width="10.3" height="10.3" fill="none" stroke="#0000ff" stroke-width="3.4"/>
<rect x="2035.65" y="3109.85" width="10.3" height="10.3" fill="none" stroke="#0000ff" stroke-width="3.4"/>
<rect x="2027.95" y="3154.25" width="10.3" height="10.3" fill="none" stroke="#0000ff" stroke-width="3.4"/>
<rect x="1829.85" y="3216.85" width="10.3" height="10.3" fill="none" stroke="#0000ff" stroke-width="3.4"/>
<rect x="982.95" y="3175.95" width="10.3" height="10.3" fill="none" stroke="#0000ff" stroke-width="3.4"/>
<rect x="1149.85" y="3169.75" width="10.3" height="10.3" fill="none" stroke="#0000ff" stroke-width="3.4"/>
<rect x="1382.45" y="3182.85" width="10.3" height="10.3" fill="none" stroke="#0000ff" stroke-width="3.4"/>
<rect x="1436.55" y="3175.15" width="10.3" height="10.3" fill="none" stroke="#0000ff" stroke-width="3.4"/>
<rect x="982.95" y="3240.45" width="10.3" height="10.3" fill="none" stroke="#0000ff" stroke-width="3.4"/>
<rect x="690.85" y="3334.05" width="10.3" height="10.3" fill="none" stroke="#0000ff" stroke-width="3.4"/>
<rect x="984.45" y="3412.75" width="10.3" height="10.3" fill="none" stroke="#0000ff" stroke-width="3.4"/>
<rect x="1261.85" y="3412.75" width="10.3" height="10.3" fill="none" stroke="#0000ff" stroke-width="3.4"/>
<rect x="1628.95" y="3430.95" width="10.3" height="10.3" fill="none" stroke="#0000ff" stroke-width="3.4"/>
<rect x="1662.55" y="3425.95" width="10.3" height="10.3" fill="none" stroke="#0000ff" stroke-width="3.4"/>
<rect x="2186.65" y="3378.75" width="10.3" height="10.3" fill="none" stroke="#0000ff" stroke-width="3.4"/>
<text transform="translate(505.02,3168.30) scale(0.9680,1)" x="0.00" y="0" font-size="64.00">N</text>
<text transform="translate(556.42,3139.30) scale(0.9680,1)" x="0.00" y="0" font-size="64.00">K3</text>
<text transform="translate(646.39,3111.50) scale(0.9680,1)" x="0.00" y="0" font-size="64.00">S2</text>
<g transform="translate(517.79,3230.90) scale(0.9680,1)"><text x="0.00" y="0" font-size="64.00">S<tspan dx="2.56">1</tspan></text><rect x="48.45" y="-5.63" width="12.90" height="6.91" fill="#fff"/><rect x="66.99" y="-5.63" width="11.40" height="6.91" fill="#fff"/></g>
<text transform="translate(597.85,3246.30) scale(0.9680,1)" x="0.00" y="0" font-size="64.00">C</text>
<text transform="translate(501.22,3301.60) scale(0.9680,1)" x="0.00" y="0" font-size="64.00">K4</text>
<g transform="translate(591.92,3330.60) scale(0.9680,1)"><text x="0.00" y="0" font-size="64.00">D<tspan dx="2.56">1</tspan></text><rect x="51.98" y="-5.63" width="12.90" height="6.91" fill="#fff"/><rect x="70.53" y="-5.63" width="11.40" height="6.91" fill="#fff"/></g>
<g transform="translate(808.90,3388.60) scale(0.9680,1)"><text x="0.00" y="0" font-size="64.00">g<tspan dx="2.56">1</tspan></text><rect x="41.35" y="-5.63" width="12.90" height="6.91" fill="#fff"/><rect x="59.90" y="-5.63" width="11.40" height="6.91" fill="#fff"/></g>
<text transform="translate(891.32,3007.60) scale(0.9680,1)" x="0.00" y="0" font-size="64.00">Es</text>
<text transform="translate(843.72,2723.30) scale(0.9680,1)" x="0.00" y="0" font-size="64.00">Pg</text>
<text transform="translate(1184.92,2796.80) scale(0.9680,1)" x="0.00" y="0" font-size="64.00">ED</text>
<g transform="translate(1386.32,3404.00) scale(0.9680,1)"><text x="0.00" y="0" font-size="64.00">P<tspan dx="2.56">1</tspan><tspan dx="-2.56">2</tspan></text><rect x="48.45" y="-5.63" width="12.90" height="6.91" fill="#fff"/><rect x="66.99" y="-5.63" width="11.40" height="6.91" fill="#fff"/></g>
<text transform="translate(1514.92,3218.50) scale(0.9680,1)" x="0.00" y="0" font-size="64.00">Ds</text>
<text transform="translate(1702.82,3295.80) scale(0.9680,1)" x="0.00" y="0" font-size="64.00">D</text>
<text transform="translate(1852.32,3497.50) scale(0.9680,1)" x="0.00" y="0" font-size="64.00">Pl</text>
<text transform="translate(2117.12,3132.40) scale(0.9680,1)" x="0.00" y="0" font-size="64.00">K2</text>
</svg>
</body>
</html>
